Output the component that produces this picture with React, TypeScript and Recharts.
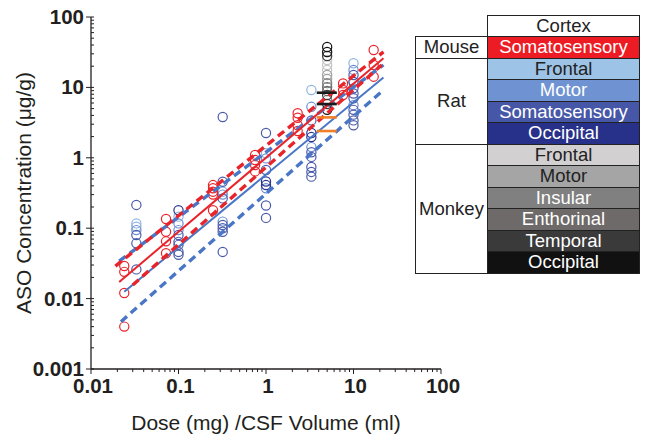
import { ScatterChart, Scatter, XAxis, YAxis } from "recharts";

// axis ticks (decades); minor ticks are the 2..9 multiples inside each decade
const xMajor = [0.01, 0.1, 1, 10, 100];
const yMajor = [0.001, 0.01, 0.1, 1, 10, 100];
const minorSteps = [2, 3, 4, 5, 6, 7, 8, 9];

// Mouse, somatosensory cortex
const mouseSomato = [
  { dose: 0.024, conc: 0.029 }, { dose: 0.024, conc: 0.024 }, { dose: 0.024, conc: 0.012 }, { dose: 0.024, conc: 0.004 },
  { dose: 0.072, conc: 0.135 }, { dose: 0.072, conc: 0.089 }, { dose: 0.072, conc: 0.065 }, { dose: 0.072, conc: 0.044 },
  { dose: 0.248, conc: 0.41 }, { dose: 0.248, conc: 0.37 }, { dose: 0.248, conc: 0.33 }, { dose: 0.248, conc: 0.3 }, { dose: 0.248, conc: 0.18 },
  { dose: 0.75, conc: 1.1 }, { dose: 0.75, conc: 0.93 }, { dose: 0.75, conc: 0.79 }, { dose: 0.75, conc: 0.64 },
  { dose: 2.3, conc: 4.3 }, { dose: 2.3, conc: 3.7 }, { dose: 2.3, conc: 2.9 }, { dose: 2.3, conc: 2.4 },
  { dose: 7.6, conc: 11.4 }, { dose: 7.6, conc: 9.2 }, { dose: 7.6, conc: 7.8 },
  { dose: 17, conc: 34 }, { dose: 17, conc: 20.8 }, { dose: 17, conc: 14.2 },
];

// Rat
const ratFrontal = [
  { dose: 0.033, conc: 0.117 }, { dose: 0.033, conc: 0.105 }, { dose: 0.1, conc: 0.146 },
  { dose: 0.32, conc: 0.33 }, { dose: 1, conc: 1.16 }, { dose: 3.3, conc: 9.2 }, { dose: 10, conc: 22 },
];
const ratMotor = [
  { dose: 0.033, conc: 0.094 }, { dose: 0.1, conc: 0.117 }, { dose: 0.1, conc: 0.094 },
  { dose: 0.32, conc: 0.3 }, { dose: 0.32, conc: 0.124 }, { dose: 1, conc: 0.98 }, { dose: 1, conc: 0.37 },
  { dose: 3.3, conc: 5.3 }, { dose: 3.3, conc: 1.42 }, { dose: 10, conc: 17.7 }, { dose: 10, conc: 5.6 },
];
const ratSomato = [
  { dose: 0.033, conc: 0.214 }, { dose: 0.033, conc: 0.08 }, { dose: 0.033, conc: 0.061 }, { dose: 0.033, conc: 0.026 },
  { dose: 0.1, conc: 0.08 }, { dose: 0.1, conc: 0.064 }, { dose: 0.1, conc: 0.058 }, { dose: 0.1, conc: 0.046 }, { dose: 0.1, conc: 0.042 },
  { dose: 0.32, conc: 3.8 }, { dose: 0.32, conc: 0.457 }, { dose: 0.32, conc: 0.265 }, { dose: 0.32, conc: 0.111 },
  { dose: 0.32, conc: 0.1 }, { dose: 0.32, conc: 0.089 }, { dose: 0.32, conc: 0.046 },
  { dose: 1, conc: 2.25 }, { dose: 1, conc: 0.67 }, { dose: 1, conc: 0.21 }, { dose: 1, conc: 0.14 },
  { dose: 3.3, conc: 3.4 }, { dose: 3.3, conc: 1.2 }, { dose: 3.3, conc: 1.03 }, { dose: 3.3, conc: 0.74 },
  { dose: 3.3, conc: 0.63 }, { dose: 3.3, conc: 0.54 },
  { dose: 10, conc: 15 }, { dose: 10, conc: 9.7 }, { dose: 10, conc: 8.2 }, { dose: 10, conc: 7 },
  { dose: 10, conc: 4.8 }, { dose: 10, conc: 4.1 }, { dose: 10, conc: 3.4 }, { dose: 10, conc: 2.9 },
];
const ratOccipital = [
  { dose: 0.1, conc: 0.18 }, { dose: 1, conc: 0.46 }, { dose: 1, conc: 0.41 },
  { dose: 3.3, conc: 2.25 }, { dose: 3.3, conc: 1.97 }, { dose: 10, conc: 12 },
];

// Monkey (all at the same dose)
const monkeyFrontal = [{ dose: 5, conc: 24.5 }, { dose: 5, conc: 20.8 }, { dose: 5, conc: 17.7 }];
const monkeyMotor = [{ dose: 5, conc: 15 }, { dose: 5, conc: 13.2 }];
const monkeyInsular = [{ dose: 5, conc: 11.5 }, { dose: 5, conc: 6.6 }];
const monkeyEnthorinal = [{ dose: 5, conc: 10.1 }, { dose: 5, conc: 8.9 }];
const monkeyTemporal = [{ dose: 5, conc: 27.9 }, { dose: 5, conc: 7.8 }, { dose: 5, conc: 5.8 }];
const monkeyOccipital = [{ dose: 5, conc: 37.5 }, { dose: 5, conc: 31.8 }, { dose: 5, conc: 4.8 }];

// regression lines with their bands
const mouseFit = [{ dose: 0.021, conc: 0.0172 }, { dose: 22, conc: 26 }];
const mouseUpper = [{ dose: 0.019, conc: 0.029 }, { dose: 22, conc: 32 }];
const mouseLower = [{ dose: 0.03, conc: 0.0156 }, { dose: 21, conc: 20.8 }];
const ratFit = [{ dose: 0.024, conc: 0.0125 }, { dose: 22, conc: 13.8 }];
const ratUpper = [{ dose: 0.021, conc: 0.034 }, { dose: 22, conc: 20.8 }];
const ratLower = [{ dose: 0.022, conc: 0.0047 }, { dose: 22, conc: 9.2 }];

// short horizontal markers at the monkey dose
const markerSpan = [3.8, 6.45];
const blackMarks = [8.4, 5.8];
const orangeMarks = [3.75, 2.4];

const RED = "#E8242B";
const BLUE_LINE = "#4A76C6";
const FONT = "'Liberation Sans', Arial, sans-serif";
const INK = "#231f20";

const legendRows = [
  { label: "Somatosensory", bg: "#ED1C24", fg: "#fff" },
  { label: "Frontal", bg: "#9DC3E6", fg: "#222" },
  { label: "Motor", bg: "#6F93D2", fg: "#fff" },
  { label: "Somatosensory", bg: "#4757A7", fg: "#fff" },
  { label: "Occipital", bg: "#28318A", fg: "#fff" },
  { label: "Frontal", bg: "#D2D0D0", fg: "#222" },
  { label: "Motor", bg: "#A5A5A5", fg: "#222" },
  { label: "Insular", bg: "#808080", fg: "#fff" },
  { label: "Enthorinal", bg: "#6E6A69", fg: "#fff" },
  { label: "Temporal", bg: "#3A3A3A", fg: "#fff" },
  { label: "Occipital", bg: "#111111", fg: "#fff" },
];

function withMinor(major: number[]) {
  const out: number[] = [];
  major.forEach((m, i) => {
    out.push(m);
    if (i < major.length - 1) minorSteps.forEach((s) => out.push(+(m * s).toPrecision(3)));
  });
  return out;
}

const ring = (color: string) => (props: any) => (
  <circle cx={props.cx} cy={props.cy} r={4.6} fill="none" stroke={color} strokeWidth={1.2} />
);
const noDot = () => <g />;

function XTick({ x, y, payload }: any) {
  const major = xMajor.includes(payload.value);
  return (
    <g>
      <line x1={x} x2={x} y1={y} y2={y + (major ? 5 : 3)} stroke={INK} strokeWidth={1} />
      {major && (
        <text x={x + 2} y={y + 24} textAnchor="middle" fontFamily={FONT} fontWeight="bold" fontSize={20.5} fill={INK}>
          {payload.value}
        </text>
      )}
    </g>
  );
}

function YTick({ x, y, payload }: any) {
  const major = yMajor.includes(payload.value);
  return (
    <g>
      <line x1={major ? x - 5 : x} x2={x + 3} y1={y} y2={y} stroke={INK} strokeWidth={1} />
      {major && (
        <text x={x - 7} y={y + 7} textAnchor="end" fontFamily={FONT} fontWeight="bold" fontSize={20.5} fill={INK}>
          {payload.value}
        </text>
      )}
    </g>
  );
}

function Legend() {
  const top = 36;
  const rowH = 21.5;
  const cell = { position: "absolute" as const, boxSizing: "border-box" as const };
  const species = [
    { name: "Mouse", from: 0, to: 1 },
    { name: "Rat", from: 1, to: 5 },
    { name: "Monkey", from: 5, to: 11 },
  ];
  return (
    <div style={{ fontFamily: FONT, fontSize: 18.5, color: "#222" }}>
      <div style={{ ...cell, left: 487, top: 15, width: 153, height: 22, border: "1px solid #222", background: "#fff", textAlign: "center", lineHeight: "20px" }}>
        Cortex
      </div>
      {species.map((s) => (
        <div
          key={s.name}
          style={{
            ...cell, left: 415, top: top + s.from * rowH, width: 73, height: (s.to - s.from) * rowH + 1,
            border: "1px solid #222", display: "flex", alignItems: "center", justifyContent: "center",
          }}
        >
          {s.name}
        </div>
      ))}
      {legendRows.map((r, i) => (
        <div
          key={i}
          style={{
            ...cell, left: 487, top: top + i * rowH, width: 153, height: rowH + 1,
            border: "1px solid #222", background: r.bg, color: r.fg, textAlign: "center", lineHeight: `${rowH - 1}px`,
          }}
        >
          {r.label}
        </div>
      ))}
    </div>
  );
}

export default function App() {
  const dashed = { strokeWidth: 3.4, strokeDasharray: "8 5" };
  return (
    <div style={{ position: "absolute", left: 0, top: 0, width: 645, height: 440, background: "#fff" }}>
      <ScatterChart width={645} height={440} margin={{ top: 17, right: 204, bottom: 0, left: 0 }}>
        <XAxis
          type="number" dataKey="dose" scale="log" domain={[0.01, 100]} allowDataOverflow
          ticks={withMinor(xMajor)} interval={0} tick={<XTick />} tickLine={false} tickSize={0} tickMargin={0}
          height={71} axisLine={{ stroke: INK, strokeWidth: 1.3 }}
          label={{ value: "Dose (mg) /CSF Volume (ml)", position: "insideBottom", offset: 10, style: { fontFamily: FONT, fontSize: 21, fill: INK } }}
        />
        <YAxis
          type="number" dataKey="conc" scale="log" domain={[0.001, 100]} allowDataOverflow
          ticks={withMinor(yMajor)} interval={0} tick={<YTick />} tickLine={false} tickSize={0} tickMargin={0}
          width={91} axisLine={{ stroke: INK, strokeWidth: 1.3 }}
          label={{ value: "ASO Concentration (μg/g)", angle: -90, position: "insideLeft", offset: 24, style: { textAnchor: "middle", fontFamily: FONT, fontSize: 21, fill: INK } }}
        />
        <Scatter data={ratFrontal} shape={ring("#8FB6E0")} isAnimationActive={false} />
        <Scatter data={ratMotor} shape={ring("#6C8ED0")} isAnimationActive={false} />
        <Scatter data={ratSomato} shape={ring("#4B5BAA")} isAnimationActive={false} />
        <Scatter data={ratOccipital} shape={ring("#2A348E")} isAnimationActive={false} />
        <Scatter data={monkeyFrontal} shape={ring("#C4C4C4")} isAnimationActive={false} />
        <Scatter data={monkeyMotor} shape={ring("#A0A0A0")} isAnimationActive={false} />
        <Scatter data={monkeyInsular} shape={ring("#7F7F7F")} isAnimationActive={false} />
        <Scatter data={monkeyEnthorinal} shape={ring("#6C6868")} isAnimationActive={false} />
        <Scatter data={monkeyTemporal} shape={ring("#3A3A3A")} isAnimationActive={false} />
        <Scatter data={monkeyOccipital} shape={ring("#111111")} isAnimationActive={false} />
        <Scatter data={mouseSomato} shape={ring(RED)} isAnimationActive={false} />

        <Scatter data={ratFit} shape={noDot} line={{ stroke: BLUE_LINE, strokeWidth: 2 }} isAnimationActive={false} />
        <Scatter data={ratUpper} shape={noDot} line={{ stroke: BLUE_LINE, ...dashed }} isAnimationActive={false} />
        <Scatter data={ratLower} shape={noDot} line={{ stroke: BLUE_LINE, ...dashed }} isAnimationActive={false} />
        <Scatter data={mouseFit} shape={noDot} line={{ stroke: RED, strokeWidth: 2 }} isAnimationActive={false} />
        <Scatter data={mouseUpper} shape={noDot} line={{ stroke: RED, ...dashed }} isAnimationActive={false} />
        <Scatter data={mouseLower} shape={noDot} line={{ stroke: RED, ...dashed }} isAnimationActive={false} />

        {blackMarks.map((v) => (
          <Scatter key={`b${v}`} data={markerSpan.map((d) => ({ dose: d, conc: v }))} shape={noDot}
            line={{ stroke: "#1a1a1a", strokeWidth: 2.6 }} isAnimationActive={false} />
        ))}
        {orangeMarks.map((v) => (
          <Scatter key={`o${v}`} data={markerSpan.map((d) => ({ dose: d, conc: v }))} shape={noDot}
            line={{ stroke: "#F07F2A", strokeWidth: 2.6 }} isAnimationActive={false} />
        ))}
      </ScatterChart>
      <Legend />
    </div>
  );
}
